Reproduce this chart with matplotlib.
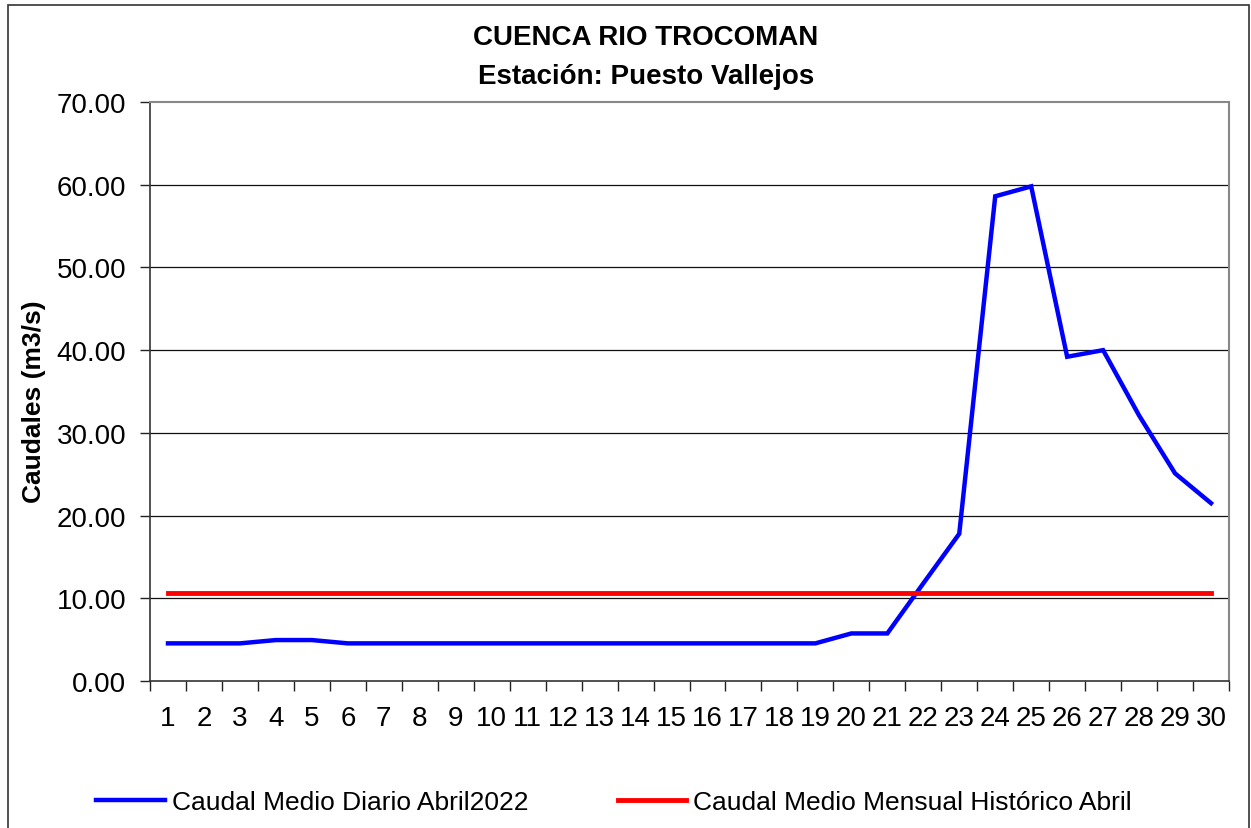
import matplotlib
matplotlib.use("Agg")
import matplotlib.pyplot as plt
from matplotlib.patches import Rectangle

days = list(range(1, 31))
caudal_diario = [4.55, 4.55, 4.55, 4.95, 4.95, 4.55, 4.55, 4.55, 4.55, 4.55,
                 4.55, 4.55, 4.55, 4.55, 4.55, 4.55, 4.55, 4.55, 4.55, 5.75,
                 5.75, 11.8, 17.8, 58.6, 59.8, 39.2, 40.0, 32.1, 25.1, 21.5]
caudal_historico = [10.6] * 30
yticks = [0, 10, 20, 30, 40, 50, 60, 70]

plt.rcParams['font.family'] = ['Liberation Sans', 'DejaVu Sans']

W, H = 1251, 829
fig = plt.figure(figsize=(W / 100, H / 100), dpi=100)
fig.patches.append(Rectangle((8 / W, -0.01), (1249 - 8) / W, 1 - 6 / H + 0.01,
                             transform=fig.transFigure, fill=False,
                             edgecolor='#333333', linewidth=1.2))

ax = fig.add_axes([150 / W, 1 - 682 / H, (1229 - 150) / W, (682 - 103) / H])
x = list(range(len(days)))
ax.plot(x, caudal_diario, color='#0000FF', linewidth=3.2, solid_joinstyle='miter',
        label='Caudal Medio Diario Abril2022', zorder=3)
ax.plot(x, caudal_historico, color='#FF0000', linewidth=3.5,
        label='Caudal Medio Mensual Histórico Abril', zorder=3)

ax.set_xlim(-0.5, len(days) - 0.5)
ax.set_ylim(0, 70)
ax.set_yticks(yticks)
ax.set_yticklabels([f"{v:.2f}" for v in yticks], fontsize=20)
ax.set_xticks(x)
ax.set_xticklabels([str(d) for d in days], fontsize=20)
ax.set_xticks([i - 0.5 for i in range(len(days) + 1)], minor=True)
ax.tick_params(axis='x', which='major', length=0, pad=17)
ax.tick_params(axis='x', which='minor', length=7, width=1, color='#222222', direction='out')
ax.tick_params(axis='y', length=7, width=1, color='#222222', direction='out', pad=10)
for v in yticks[1:-1]:
    ax.axhline(v, color='#111111', linewidth=0.9, zorder=1)
ax.spines['top'].set_color('#888888')
ax.spines['right'].set_color('#888888')
ax.spines['top'].set_linewidth(1.5)
ax.spines['right'].set_linewidth(1.5)
ax.spines['left'].set_color('#333333')
ax.spines['bottom'].set_color('#333333')
ax.spines['left'].set_linewidth(1.2)
ax.spines['bottom'].set_linewidth(1.2)

ax.set_ylabel('Caudales (m3/s)', fontsize=19, fontweight='bold')
ax.yaxis.set_label_coords(-0.0964, 0.484)
fig.text(646 / W, 1 - 38 / H, 'CUENCA RIO TROCOMAN', ha='center', va='center',
         fontsize=20, fontweight='bold')
fig.text(646 / W, 1 - 77 / H, 'Estación: Puesto Vallejos', ha='center', va='center',
         fontsize=20, fontweight='bold')

fig.legend(loc='center', bbox_to_anchor=(614 / W, 1 - 803 / H), ncol=2,
           frameon=False, fontsize=19, handlelength=2.6, handletextpad=0.25,
           columnspacing=3.4)

fig.savefig('out.png', dpi=100)
